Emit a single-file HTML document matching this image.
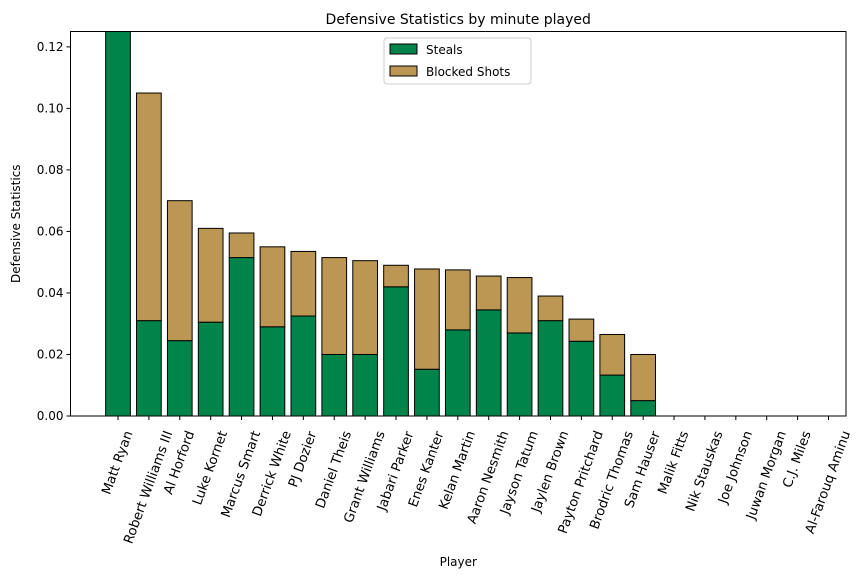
<!DOCTYPE html>
<html><head><meta charset="utf-8"><style>
body{margin:0;background:#fff;font-family:"Liberation Sans","DejaVu Sans",sans-serif}
svg text{font-family:"DejaVu Sans","Liberation Sans",sans-serif;fill:#000}
</style></head><body>
<svg width="864" height="578" viewBox="0 0 864 578" id="chart">
<rect width="864" height="578" fill="#fff"/>
<defs><clipPath id="plotclip"><rect x="70.5" y="31.5" width="775.5" height="384.5"/></clipPath></defs>
<g id="bars" clip-path="url(#plotclip)"></g>
<g id="axes"></g>
</svg>
<script>
const players=["Matt Ryan","Robert Williams III","Al Horford","Luke Kornet","Marcus Smart","Derrick White","PJ Dozier","Daniel Theis","Grant Williams","Jabari Parker","Enes Kanter","Kelan Martin","Aaron Nesmith","Jayson Tatum","Jaylen Brown","Payton Pritchard","Brodric Thomas","Sam Hauser","Malik Fitts","Nik Stauskas","Joe Johnson","Juwan Morgan","C.J. Miles","Al-Farouq Aminu"];
const steals=[0.135,0.031,0.0245,0.0305,0.0515,0.029,0.0325,0.020,0.020,0.042,0.0152,0.028,0.0345,0.027,0.031,0.0243,0.0133,0.005,0,0,0,0,0,0];
const blocks=[0,0.074,0.0455,0.0305,0.008,0.026,0.021,0.0315,0.0305,0.007,0.0326,0.0195,0.011,0.018,0.008,0.0072,0.0132,0.015,0,0,0,0,0,0];
const yTicks=[0,0.02,0.04,0.06,0.08,0.10,0.12];
const yTickLabels=["0.00","0.02","0.04","0.06","0.08","0.10","0.12"];
const NS="http://www.w3.org/2000/svg";
const L=70.5,R=846,T=31.5,B=416,YMAX=0.125;
const x=i=>118+i*((828.5-118)/23);
const y=v=>B-v*(B-T)/YMAX;
const bw=24.7;
function mk(tag,attrs,parent){const e=document.createElementNS(NS,tag);for(const k in attrs)e.setAttribute(k,attrs[k]);parent.appendChild(e);return e;}
const bars=document.getElementById('bars'),axes=document.getElementById('axes');
players.forEach((p,i)=>{
 const cx=x(i);
 const r1=mk('rect',{x:cx-bw/2,y:y(steals[i]),width:bw,height:B-y(steals[i]),fill:'#00844a',stroke:'#000','stroke-width':1},bars);
 
 
 const top=steals[i]+blocks[i];
 const r2=mk('rect',{x:cx-bw/2,y:y(top),width:bw,height:y(steals[i])-y(top),fill:'#bb9753',stroke:'#000','stroke-width':1},bars);
 
 
 mk('line',{x1:cx,x2:cx,y1:B,y2:B+4,stroke:'#000'},axes);
 const t=mk('text',{x:0,y:0,'font-size':13.2,'text-anchor':'end',transform:`translate(${cx},${B+14}) rotate(-70)`},axes);
 t.textContent=p;
 
 
 const bb=t.getBoundingClientRect();
 const dx=cx-(bb.left+bb.right)/2, dy=(B+13)-bb.top;
 t.setAttribute('transform',`translate(${cx+dx},${B+14+dy}) rotate(-70)`);
});
yTicks.forEach((v,i)=>{
 const yy=y(v);
 mk('line',{x1:L-4,x2:L,y1:yy,y2:yy,stroke:'#000'},axes);
 const t=mk('text',{x:L-7,y:yy+4,'font-size':12,'text-anchor':'end'},axes);
 t.textContent=yTickLabels[i];
 
 
});
const fr=mk('rect',{x:L,y:T,width:R-L,height:B-T,fill:'none',stroke:'#000','stroke-width':1},axes);


const tt=mk('text',{x:(L+R)/2,y:24,'font-size':14,'text-anchor':'middle'},axes);tt.textContent='Defensive Statistics by minute played';


const xl=mk('text',{x:(L+R)/2,y:566,'font-size':12,'text-anchor':'middle'},axes);xl.textContent='Player';


const yl=mk('text',{x:0,y:0,'font-size':12,'text-anchor':'middle',transform:`translate(20,${(T+B)/2}) rotate(-90)`},axes);yl.textContent='Defensive Statistics';


const lg=mk('g',{},axes);


mk('rect',{x:384,y:38,width:147,height:46,rx:3,fill:'#fff',stroke:'#ccc'},lg);
mk('rect',{x:390,y:44,width:27,height:10,fill:'#00844a',stroke:'#000'},lg);
mk('rect',{x:390,y:66,width:27,height:10,fill:'#bb9753',stroke:'#000'},lg);
const l1=mk('text',{x:426,y:54,'font-size':12},lg);l1.textContent='Steals';


const l2=mk('text',{x:426,y:76,'font-size':12},lg);l2.textContent='Blocked Shots';


</script>
</body></html>
